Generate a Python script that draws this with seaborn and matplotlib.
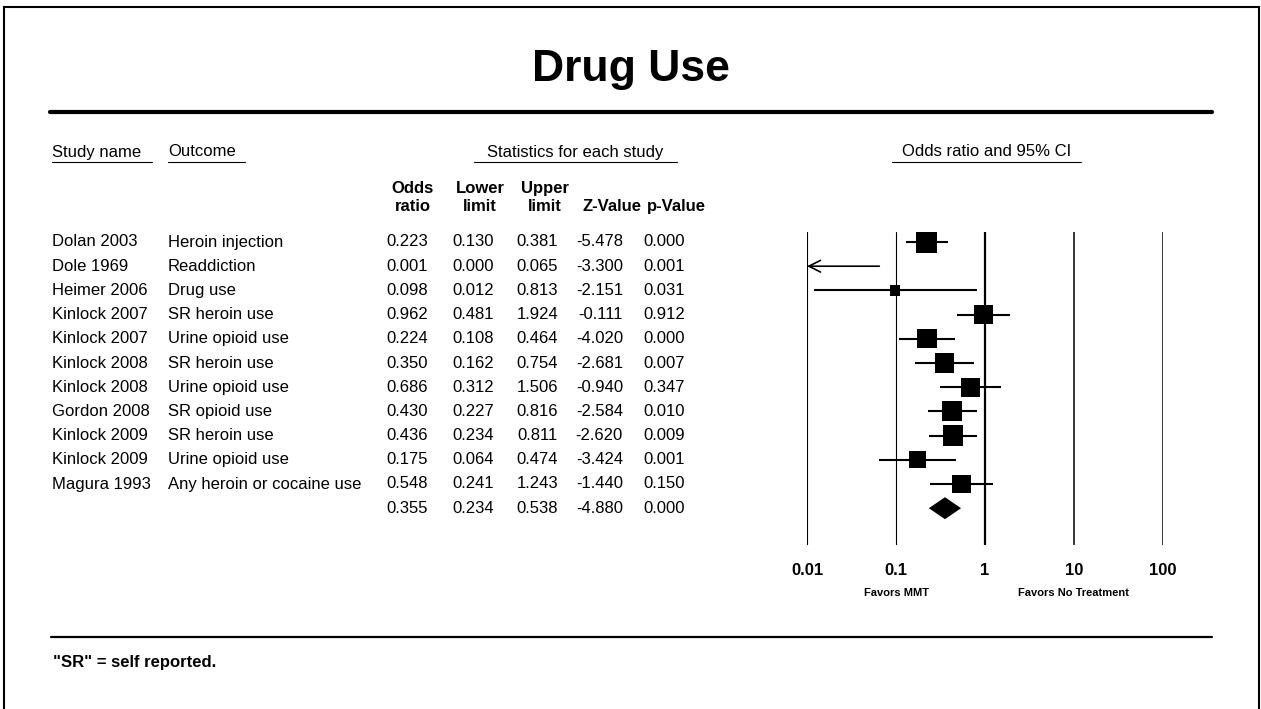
import numpy as np
import pandas as pd
import matplotlib
matplotlib.use("Agg")
import matplotlib.pyplot as plt
import matplotlib.transforms as mtransforms
from matplotlib.lines import Line2D
import seaborn as sns

sns.set_theme(style="white")
plt.rcParams["font.family"] = ["Liberation Sans", "DejaVu Sans"]
plt.rcParams["text.color"] = "black"
plt.rcParams["xtick.color"] = "black"

# ---- data -------------------------------------------------------------
studies = ["Dolan 2003", "Dole 1969", "Heimer 2006", "Kinlock 2007", "Kinlock 2007",
           "Kinlock 2008", "Kinlock 2008", "Gordon 2008", "Kinlock 2009", "Kinlock 2009",
           "Magura 1993"]
outcomes = ["Heroin injection", "Readdiction", "Drug use", "SR heroin use", "Urine opioid use",
            "SR heroin use", "Urine opioid use", "SR opioid use", "SR heroin use",
            "Urine opioid use", "Any heroin or cocaine use"]
odds_ratio = [0.223, 0.001, 0.098, 0.962, 0.224, 0.350, 0.686, 0.430, 0.436, 0.175, 0.548]
lower_limit = [0.130, 0.000, 0.012, 0.481, 0.108, 0.162, 0.312, 0.227, 0.234, 0.064, 0.241]
upper_limit = [0.381, 0.065, 0.813, 1.924, 0.464, 0.754, 1.506, 0.816, 0.811, 0.474, 1.243]
z_value = [-5.478, -3.300, -2.151, -0.111, -4.020, -2.681, -0.940, -2.584, -2.620, -3.424, -1.440]
p_value = [0.000, 0.001, 0.031, 0.912, 0.000, 0.007, 0.347, 0.010, 0.009, 0.001, 0.150]

summary_or = 0.355
summary_lower = 0.234
summary_upper = 0.538
summary_z = -4.880
summary_p = 0.000

axis_ticks = [0.01, 0.1, 1, 10, 100]
axis_labels = ["0.01", "0.1", "1", "10", "100"]

# ---- random-effects weights (DerSimonian-Laird) for marker areas ------
y = np.log(odds_ratio)
se = y / np.array(z_value)
v = se ** 2
w = 1 / v
ybar = np.sum(w * y) / np.sum(w)
Q = np.sum(w * (y - ybar) ** 2)
C = np.sum(w) - np.sum(w ** 2) / np.sum(w)
tau2 = max(0.0, (Q - (len(y) - 1)) / C)
w_re = 1 / (v + tau2)

df = pd.DataFrame({
    "study": studies, "outcome": outcomes, "or": odds_ratio,
    "lo": lower_limit, "hi": upper_limit, "z": z_value, "p": p_value,
    "weight": w_re,
})
df["row"] = np.arange(len(df))
summary_row = len(df)

# ---- figure / layout (pixel helpers) ----------------------------------
W, H = 1261, 709
fig = plt.figure(figsize=(W / 100, H / 100), dpi=100)
fig.patch.set_facecolor("white")


def fx(x):
    return x / W


def fy(yp):
    return 1 - yp / H


row0_px, row_step = 242.0, 24.2
ax_top, ax_bot = 232.0, 545.0
x_left, x_right = 807.0, 1163.0

ax = fig.add_axes([fx(x_left), fy(ax_bot), (x_right - x_left) / W, (ax_bot - ax_top) / H])
ax.set_xscale("log")
ax.set_xlim(axis_ticks[0], axis_ticks[-1])
ax.set_ylim((ax_bot - row0_px) / row_step, (ax_top - row0_px) / row_step)
for s in ax.spines.values():
    s.set_visible(False)
ax.set_facecolor("none")
ax.grid(False)

# reference lines at each decade
for t, lw in zip(axis_ticks, [0.8, 0.8, 1.6, 1.1, 1.1]):
    ax.axvline(t, color="black", lw=lw, zorder=1)

ax.set_yticks([])
ax.set_xticks(axis_ticks)
ax.set_xticklabels(axis_labels, fontsize=12, fontweight="bold", color="black")
ax.minorticks_off()
ax.tick_params(axis="x", length=0, pad=13, colors="black")

xmin = axis_ticks[0]
# confidence intervals
for _, r in df.iterrows():
    if r["or"] < xmin:
        ax.annotate("", xy=(xmin, r["row"]), xytext=(r["hi"], r["row"]),
                    arrowprops=dict(arrowstyle="->,head_length=0.7,head_width=0.35",
                                    color="black", lw=1.2, shrinkA=0, shrinkB=0))
    else:
        ax.plot([max(r["lo"], xmin), r["hi"]], [r["row"], r["row"]],
                color="black", lw=1.5, solid_capstyle="butt", zorder=2)

# study squares, area proportional to weight
vis = df[df["or"] >= xmin]
max_side_pt = 21 * 0.72
k = max_side_pt ** 2 / df["weight"].max()
sns.scatterplot(data=vis, x="or", y="row", size="weight",
                sizes=(k * vis["weight"].min(), k * vis["weight"].max()),
                marker="s", color="black", linewidth=0, legend=False, ax=ax, zorder=3)
ax.set_xlabel("")
ax.set_ylabel("")

# summary diamond
half_h = 11 / row_step
ax.fill([summary_lower, summary_or, summary_upper, summary_or],
        [summary_row, summary_row - half_h, summary_row, summary_row + half_h],
        color="black", lw=0, zorder=3)

# ---- table text ---------------------------------------------------------
tr = mtransforms.blended_transform_factory(fig.transFigure, ax.transData)
fs = 12
col_study, col_outcome = 52, 168
num_right = [428, 494, 558, 623, 685]

for _, r in df.iterrows():
    fig.text(fx(col_study), r["row"], r["study"], transform=tr, fontsize=fs, va="center", ha="left")
    fig.text(fx(col_outcome), r["row"], r["outcome"], transform=tr, fontsize=fs, va="center", ha="left")
    vals = [f"{r['or']:.3f}", f"{r['lo']:.3f}", f"{r['hi']:.3f}", f"{r['z']:.3f}", f"{r['p']:.3f}"]
    for xr, s in zip(num_right, vals):
        fig.text(fx(xr), r["row"], s, transform=tr, fontsize=fs, va="center", ha="right")

svals = [f"{summary_or:.3f}", f"{summary_lower:.3f}", f"{summary_upper:.3f}",
         f"{summary_z:.3f}", f"{summary_p:.3f}"]
for xr, s in zip(num_right, svals):
    fig.text(fx(xr), summary_row, s, transform=tr, fontsize=fs, va="center", ha="right")

# column headers
col_heads = [("Odds\nratio", 413), ("Lower\nlimit", 480), ("Upper\nlimit", 545),
             ("Z-Value", 612), ("p-Value", 676)]
for txt, xc in col_heads:
    fig.text(fx(xc), fy(211), txt, fontsize=fs, fontweight="bold", ha="center", va="baseline",
             linespacing=1.25)

# group headers with underlines
groups = [("Study name", 52, 152, "left"), ("Outcome", 168, 245, "left"),
          ("Statistics for each study", 474, 677, "center"),
          ("Odds ratio and 95% CI", 892, 1081, "center")]
for txt, x0, x1, ha in groups:
    xt = x0 if ha == "left" else (x0 + x1) / 2
    fig.text(fx(xt), fy(152), txt, fontsize=fs, ha=ha, va="center")
    fig.add_artist(Line2D([fx(x0), fx(x1)], [fy(162), fy(162)], color="black", lw=0.8,
                          transform=fig.transFigure))

# axis annotations
fig.text(fx(897), fy(593), "Favors MMT", fontsize=8, fontweight="bold", ha="center", va="center")
fig.text(fx(1074), fy(593), "Favors No Treatment", fontsize=8, fontweight="bold",
         ha="center", va="center")

# title and rules
fig.text(fx(631), fy(70), "Drug Use", fontsize=32, fontweight="bold", ha="center", va="center")
fig.add_artist(Line2D([fx(50), fx(1212)], [fy(112), fy(112)], color="black", lw=3,
                      transform=fig.transFigure))
fig.add_artist(Line2D([fx(51), fx(1212)], [fy(637), fy(637)], color="black", lw=1.6,
                      transform=fig.transFigure))
fig.text(fx(53), fy(663), '"SR" = self reported.', fontsize=12, fontweight="bold",
         ha="left", va="center")

# outer frame
fig.add_artist(Line2D([fx(4), fx(4), fx(1259), fx(1259)], [fy(712), fy(7), fy(7), fy(712)],
                      color="black", lw=1.5, transform=fig.transFigure, solid_joinstyle="miter"))

fig.savefig("out.png", dpi=100, facecolor="white")
